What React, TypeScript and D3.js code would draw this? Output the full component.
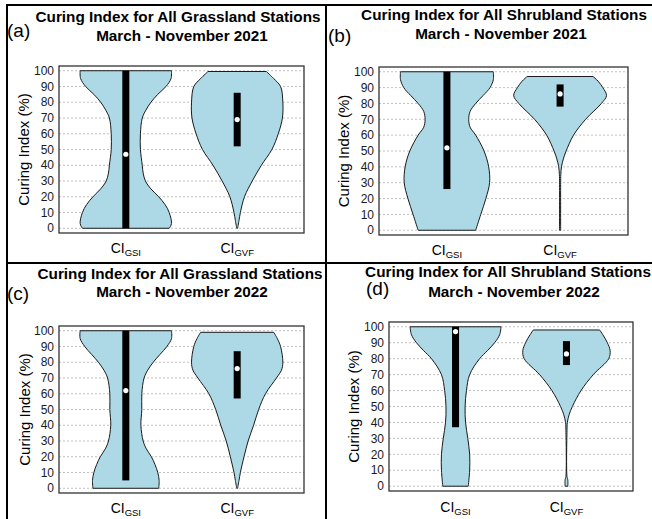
import React from "react";
import * as d3 from "d3";

// Categories on the x axis (subscripts of "CI")
const categories = ["GSI", "GVF"];
const yTicks = [0, 10, 20, 30, 40, 50, 60, 70, 80, 90, 100];

const panelTags = ["(a)", "(b)", "(c)", "(d)"];
const titleLines1 = [
  "Curing Index for All Grassland Stations",
  "Curing Index for All Shrubland Stations",
  "Curing Index for All Grassland Stations",
  "Curing Index for All Shrubland Stations",
];
const titleLines2 = [
  "March - November 2021",
  "March - November 2021",
  "March - November 2022",
  "March - November 2022",
];
const yAxisTitle = "Curing Index (%)";

// Violin density profiles: [curing index, relative density]
const grass2021Gsi: [number, number][] = [
  [0, 0.95], [3, 1.0], [10, 0.95], [15, 0.86], [20, 0.72], [25, 0.55], [30, 0.43],
  [35, 0.38], [40, 0.36], [50, 0.32], [60, 0.32], [70, 0.36], [75, 0.44],
  [80, 0.55], [85, 0.7], [90, 0.88], [95, 0.99], [100, 1.0],
];
const grass2021Gvf: [number, number][] = [
  [0, 0.01], [5, 0.04], [10, 0.07], [20, 0.16], [30, 0.33], [40, 0.53], [50, 0.76],
  [60, 0.9], [70, 0.99], [80, 1.0], [90, 0.95], [95, 0.8], [99.5, 0.64],
];
const shrub2021Gsi: [number, number][] = [
  [0, 0.62], [10, 0.73], [20, 0.84], [30, 0.92], [40, 0.9], [50, 0.8], [60, 0.62],
  [65, 0.5], [70, 0.47], [75, 0.5], [80, 0.62], [85, 0.78], [90, 0.93], [95, 1.0], [100, 1.0],
];
const shrub2021Gvf: [number, number][] = [
  [0, 0.012], [30, 0.012], [35, 0.015], [40, 0.03], [45, 0.07], [50, 0.13], [60, 0.29],
  [70, 0.55], [80, 0.89], [85, 1.0], [90, 0.92], [94, 0.82], [97, 0.71],
];
const grass2022Gsi: [number, number][] = [
  [0, 0.72], [5, 0.73], [10, 0.7], [15, 0.64], [20, 0.56], [25, 0.45], [30, 0.38],
  [40, 0.33], [50, 0.35], [60, 0.35], [70, 0.4], [75, 0.48], [80, 0.6], [85, 0.75],
  [90, 0.9], [95, 1.0], [100, 1.0],
];
const grass2022Gvf: [number, number][] = [
  [0, 0.01], [5, 0.04], [10, 0.07], [20, 0.15], [30, 0.24], [40, 0.36], [50, 0.47],
  [60, 0.62], [70, 0.86], [75, 0.97], [80, 1.0], [90, 0.95], [95, 0.88], [99, 0.8],
];
const shrub2022Gsi: [number, number][] = [
  [0, 0.28], [10, 0.31], [20, 0.31], [30, 0.27], [40, 0.22], [50, 0.21], [60, 0.24],
  [70, 0.31], [80, 0.53], [85, 0.7], [90, 0.86], [95, 0.97], [100, 1.0],
];
const shrub2022Gvf: [number, number][] = [
  [0, 0.03], [4, 0.03], [6, 0.012], [35, 0.012], [40, 0.02], [45, 0.06], [50, 0.13],
  [60, 0.32], [70, 0.59], [80, 0.93], [85, 0.96], [90, 0.9], [95, 0.8], [98, 0.73],
];

const violinsByPanel = [
  [grass2021Gsi, grass2021Gvf],
  [shrub2021Gsi, shrub2021Gvf],
  [grass2022Gsi, grass2022Gvf],
  [shrub2022Gsi, shrub2022Gvf],
];

// Box summaries per panel: [GSI, GVF]
const q1Values = [[0, 52], [26, 78], [5, 57], [37, 76]];
const medianValues = [[47, 69], [52, 86], [62, 76], [97, 83]];
const q3Values = [[100, 86], [100, 92], [100, 87], [100, 91]];

// Panel geometry
const layouts = [
  { left: 59, right: 304, top: 66, bottom: 233, tagX: 7, tagY: 37, t1x: 178, t2x: 182, t1y: 22, t2y: 41, yTitleX: 24, xLabY: 253 },
  { left: 379, right: 628, top: 67, bottom: 235, tagX: 328, tagY: 42, t1x: 504, t2x: 501, t1y: 20, t2y: 39, yTitleX: 344, xLabY: 255 },
  { left: 59, right: 304, top: 326, bottom: 493, tagX: 7, tagY: 300, t1x: 180, t2x: 182, t1y: 279, t2y: 297, yTitleX: 25, xLabY: 513 },
  { left: 389, right: 633, top: 322, bottom: 491, tagX: 366, tagY: 295, t1x: 508, t2x: 514, t1y: 277, t2y: 297, yTitleX: 354, xLabY: 512 },
];

const FONT = "'Liberation Sans', Arial, Helvetica, sans-serif";
const FILL = "#add8e6";

function Panel({ idx }: { idx: number }) {
  const L = layouts[idx];
  const y = d3.scaleLinear().domain([-3, 103]).range([L.bottom, L.top]);
  const x = d3.scalePoint<string>().domain(categories).range([L.left, L.right]).padding(0.6);
  const halfW = d3.scaleLinear().domain([0, 1]).range([0, x.step() * 0.41]);

  return (
    <g>
      <text x={L.tagX} y={L.tagY} fontFamily={FONT} fontSize={19} fill="#000">
        {panelTags[idx]}
      </text>
      <text x={L.t1x} y={L.t1y} textAnchor="middle" fontFamily={FONT} fontSize={15.3} fontWeight="bold" fill="#000">
        {titleLines1[idx]}
      </text>
      <text x={L.t2x} y={L.t2y} textAnchor="middle" fontFamily={FONT} fontSize={15.3} fontWeight="bold" fill="#000">
        {titleLines2[idx]}
      </text>

      {/* panel background and grid */}
      <rect x={L.left} y={L.top} width={L.right - L.left} height={L.bottom - L.top} fill="#fff" />
      {yTicks.map((t) => (
        <line key={t} x1={L.left} x2={L.right} y1={y(t)} y2={y(t)} stroke="#b0b0b0" strokeWidth={0.8} strokeDasharray="2,2" />
      ))}

      {/* violins */}
      {categories.map((c, i) => {
        const cx = x(c) as number;
        const pts = violinsByPanel[idx][i];
        const area = d3
          .area<[number, number]>()
          .y((d) => y(d[0]))
          .x0((d) => cx - halfW(d[1]))
          .x1((d) => cx + halfW(d[1]))
          .curve(d3.curveCatmullRom.alpha(0.5));
        const q1 = q1Values[idx][i];
        const q3 = q3Values[idx][i];
        const med = medianValues[idx][i];
        return (
          <g key={c}>
            <path d={area(pts) || ""} fill={FILL} stroke="#1a1a1a" strokeWidth={1} />
            <rect x={cx - 3.5} y={y(q3)} width={7} height={y(q1) - y(q3)} fill="#000" />
            <circle cx={cx} cy={y(med)} r={2.6} fill="#fff" />
          </g>
        );
      })}

      <rect x={L.left} y={L.top} width={L.right - L.left} height={L.bottom - L.top} fill="none" stroke="#333" strokeWidth={1.3} />

      {/* y tick labels */}
      {yTicks.map((t) => (
        <text key={t} x={L.left - 5} y={y(t)} dy="0.35em" textAnchor="end" fontFamily={FONT} fontSize={12} fill="#1a1a1a">
          {t}
        </text>
      ))}
      <text
        transform={`translate(${L.yTitleX},${(L.top + L.bottom) / 2}) rotate(-90)`}
        textAnchor="middle"
        dy="0.35em"
        fontFamily={FONT}
        fontSize={15}
        fill="#000"
      >
        {yAxisTitle}
      </text>

      {/* x labels */}
      {categories.map((c) => (
        <text key={c} x={x(c) as number} y={L.xLabY} textAnchor="middle" fontFamily={FONT} fontSize={14} fill="#000">
          <tspan>CI</tspan>
          <tspan fontSize={9.5} dy={3}>{c}</tspan>
        </text>
      ))}
    </g>
  );
}

export default function App() {
  return (
    <svg
      width={652}
      height={519}
      style={{ position: "absolute", left: 0, top: 0, background: "#fff" }}
    >
      <rect width={652} height={519} fill="#fff" />
      {[0, 1, 2, 3].map((i) => (
        <Panel key={i} idx={i} />
      ))}
      {/* figure frame */}
      <line x1={7} x2={7} y1={4} y2={519} stroke="#000" strokeWidth={2} />
      <line x1={6} x2={652} y1={5} y2={5} stroke="#000" strokeWidth={2} />
      <line x1={326} x2={326} y1={4} y2={519} stroke="#000" strokeWidth={2} />
      <line x1={6} x2={652} y1={263} y2={263} stroke="#000" strokeWidth={2} />
    </svg>
  );
}
